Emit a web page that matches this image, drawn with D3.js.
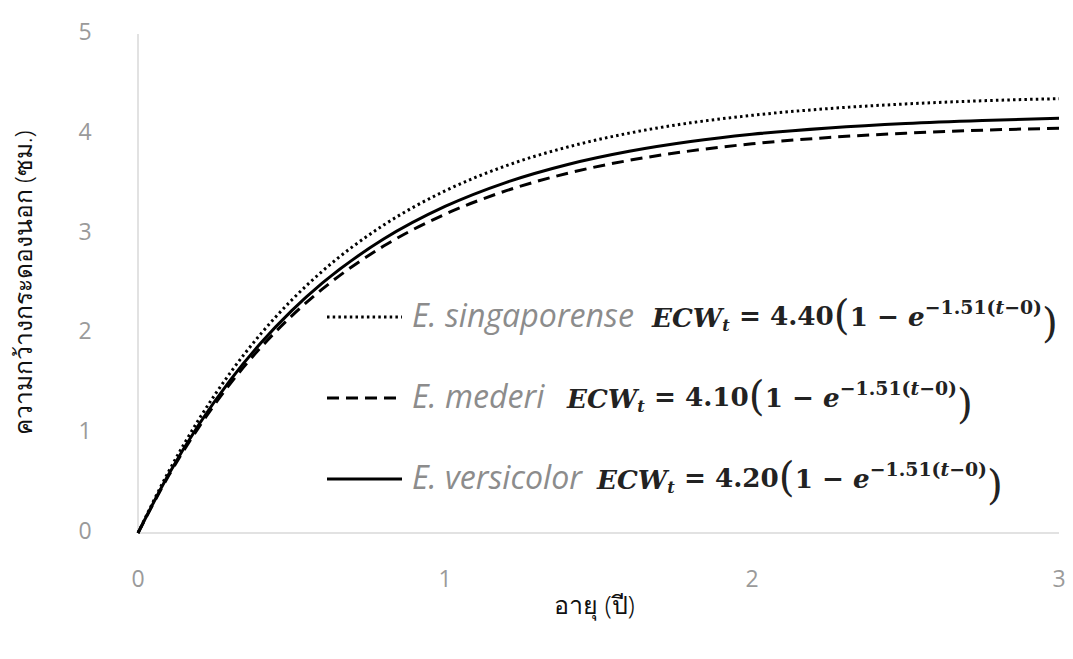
<!DOCTYPE html>
<html>
<head>
<meta charset="utf-8">
<script src="https://cdn.jsdelivr.net/npm/d3@7/dist/d3.min.js"></script>
<style>
  html, body { margin: 0; padding: 0; background: #fff; }
  svg { display: block; }
</style>
</head>
<body>
<svg id="chart" width="1073" height="659"></svg>
<script>
// ---- data ----
const ages = [0, 0.1, 0.2, 0.3, 0.4, 0.5, 0.6, 0.8, 1.0, 1.2, 1.4, 1.6, 1.8, 2.0, 2.25, 2.5, 2.75, 3.0];
const singaporense = [0, 0.617, 1.147, 1.603, 1.995, 2.332, 2.622, 3.085, 3.428, 3.681, 3.868, 4.007, 4.110, 4.185, 4.253, 4.299, 4.331, 4.352];
const mederi       = [0, 0.575, 1.069, 1.494, 1.859, 2.173, 2.443, 2.875, 3.194, 3.430, 3.605, 3.734, 3.829, 3.900, 3.963, 4.006, 4.036, 4.056];
const versicolor   = [0, 0.589, 1.095, 1.530, 1.904, 2.226, 2.503, 2.945, 3.272, 3.514, 3.693, 3.825, 3.923, 3.995, 4.059, 4.104, 4.134, 4.155];
const xTicks = [0, 1, 2, 3];
const yTicks = [0, 1, 2, 3, 4, 5];
const speciesNames = ["E. singaporense", "E. mederi", "E. versicolor"];
const linfValues = ["4.40", "4.10", "4.20"];
const kValue = "1.51";
const xTitle = "อายุ (ปี)";
const yTitle = "ความกว้างกระดองนอก (ซม.)";

const series = [
  { name: speciesNames[0], linf: linfValues[0], values: singaporense, dash: "2.5,3.2" },
  { name: speciesNames[1], linf: linfValues[1], values: mederi, dash: "12,7" },
  { name: speciesNames[2], linf: linfValues[2], values: versicolor, dash: null }
];

// ---- layout ----
const svg = d3.select("#chart");
const x = d3.scaleLinear().domain([0, 3]).range([138, 1059]);
const y = d3.scaleLinear().domain([0, 5]).range([533, 34]);

// axes lines
svg.append("line").attr("x1", x(0)).attr("x2", x(0)).attr("y1", y(5)).attr("y2", y(0))
  .attr("stroke", "#d9d9d9").attr("stroke-width", 1.5);
svg.append("line").attr("x1", x(0)).attr("x2", x(3)).attr("y1", y(0)).attr("y2", y(0))
  .attr("stroke", "#d9d9d9").attr("stroke-width", 1.5);

// tick labels
const tickFont = "'Open Sans', 'DejaVu Sans', sans-serif";
svg.append("g").selectAll("text").data(yTicks).join("text")
  .attr("x", 85).attr("y", d => y(d) - 3)
  .attr("text-anchor", "middle").attr("dominant-baseline", "central")
  .attr("font-family", tickFont).attr("font-size", 23).attr("fill", "#9a9a9a")
  .text(d => d);
svg.append("g").selectAll("text").data(xTicks).join("text")
  .attr("x", d => x(d)).attr("y", 578)
  .attr("text-anchor", "middle").attr("dominant-baseline", "central")
  .attr("font-family", tickFont).attr("font-size", 23).attr("fill", "#9a9a9a")
  .text(d => d);

// axis titles
svg.append("text").attr("x", x(1.5) - 4).attr("y", 604)
  .attr("text-anchor", "middle").attr("dominant-baseline", "central")
  .attr("font-family", "'Noto Sans', 'DejaVu Sans', sans-serif").attr("font-size", 25)
  .attr("font-weight", 300).attr("fill", "#111")
  .text(xTitle);
svg.append("text")
  .attr("transform", "translate(22,283) rotate(-90)")
  .attr("text-anchor", "middle").attr("dominant-baseline", "central")
  .attr("font-family", "'Noto Sans', 'DejaVu Sans', sans-serif").attr("font-size", 24.5)
  .attr("font-weight", 300).attr("fill", "#111")
  .text(yTitle);

// curves
const line = d3.line().x(d => x(d[0])).y(d => y(d[1])).curve(d3.curveMonotoneX);
series.forEach(s => {
  const pts = ages.map((a, i) => [a, s.values[i]]);
  svg.append("path").datum(pts).attr("d", line)
    .attr("fill", "none").attr("stroke", "#000").attr("stroke-width", 3)
    .attr("stroke-dasharray", s.dash);
});

// legend
const legendRows = [317, 398, 479];
const eqStart = [652, 567, 597];
const mathFont = "'DejaVu Serif', 'Liberation Serif', serif";
const eqs = [];
let nameSize = 30;
series.forEach((s, i) => {
  const ly = legendRows[i];
  svg.append("line").attr("x1", 327).attr("x2", 402).attr("y1", ly).attr("y2", ly)
    .attr("stroke", "#000").attr("stroke-width", 3).attr("stroke-dasharray", s.dash);
  const nm = svg.append("text").attr("x", 412).attr("y", ly + 10)
    .attr("font-family", "'Open Sans', sans-serif").attr("font-style", "italic")
    .attr("font-size", 30).attr("fill", "#8c8c8c").text(s.name);
  if (i === 0) {
    const w = nm.node().getComputedTextLength();
    nameSize = 30 * 222 / w;
  }
  nm.attr("font-size", nameSize);
  const g = svg.append("g").attr("transform", `translate(${eqStart[i]},${ly + 10})`);
  const t = g.append("text").attr("x", 0).attr("y", 0)
    .attr("font-family", mathFont).attr("font-size", 26).attr("font-weight", "bold").attr("fill", "#222");
  t.append("tspan").attr("font-style", "italic").text("ECW");
  t.append("tspan").attr("font-style", "italic").attr("font-size", "0.62em").attr("dy", "0.25em").text("t");
  t.append("tspan").attr("dy", "-0.25em").text(" = " + s.linf);
  t.append("tspan").attr("font-size", "1.55em").attr("font-weight", "normal").attr("dy", "0.1em").text("(");
  t.append("tspan").attr("dy", "-0.1em").text("1 − ");
  t.append("tspan").attr("font-style", "italic").text("e");
  t.append("tspan").attr("font-size", "0.72em").attr("dy", "-0.62em").text("−" + kValue + "(");
  t.append("tspan").attr("font-size", "0.72em").attr("font-style", "italic").text("t");
  t.append("tspan").attr("font-size", "0.72em").text("−0)");
  t.append("tspan").attr("font-size", "1.55em").attr("font-weight", "normal").attr("dy", "0.55em").text(")");
  eqs.push(t);
});
// fit the equation size so the first equation spans the width seen in the reference
const w0 = eqs[0].node().getComputedTextLength();
const fs = 26 * 406 / w0;
eqs.forEach(t => t.attr("font-size", fs));
</script>
</body>
</html>
